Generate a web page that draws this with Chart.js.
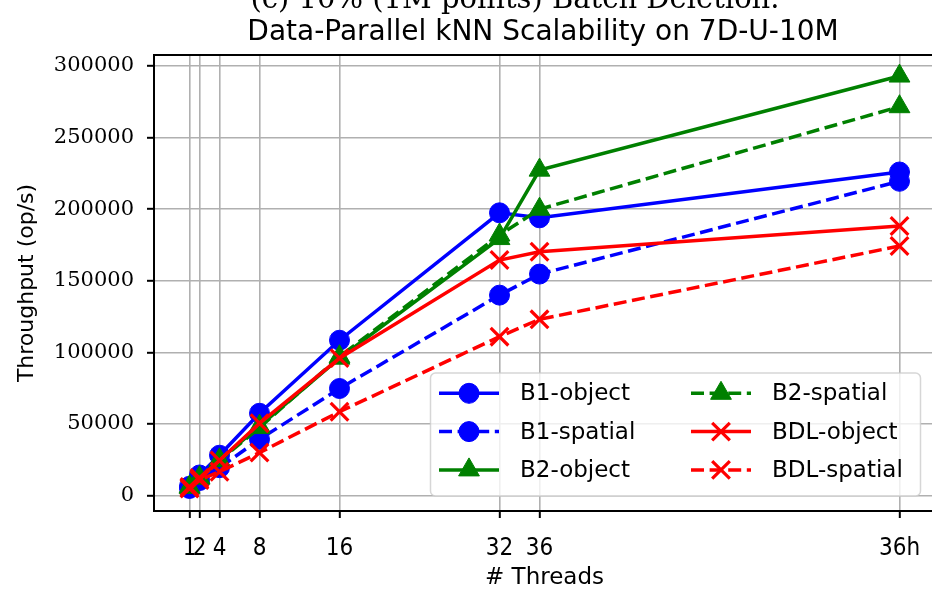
<!DOCTYPE html>
<html>
<head>
<meta charset="utf-8">
<title>Data-Parallel kNN Scalability</title>
<script src="https://cdn.jsdelivr.net/npm/chart.js@4.4.1/dist/chart.umd.min.js"></script>
<style>
  html, body { margin: 0; padding: 0; background: #fff; overflow: hidden; }
  #wrap { width: 932px; height: 590px; overflow: hidden; }
  canvas { display: block; }
</style>
</head>
<body>
<div id="wrap"><canvas id="knnChart" width="936" height="590"></canvas></div>
<script>
// x positions of the thread counts; the hyperthreaded run "36h" sits at 72
const threadPos = [1, 2, 4, 8, 16, 32, 36, 72];
const threadLabels = ['1', '2', '4', '8', '16', '32', '36', '36h'];
const yTicks = [0, 50000, 100000, 150000, 200000, 250000, 300000];

// throughput in op/s, one value per thread count
const b1Object   = [6500, 14400, 28200, 57500, 108500, 197500, 194000, 226000];
const b1Spatial  = [5000, 10500, 19500, 39300, 74800, 140000, 154700, 219500];
const b2Object   = [6000, 12500, 25000, 48500, 96000, 179500, 227300, 293000];
const b2Spatial  = [5800, 12200, 24500, 47500, 97000, 182000, 200000, 271600];
const bdlObject  = [6000, 12300, 24500, 50500, 96000, 164500, 170300, 188300];
const bdlSpatial = [5000, 10900, 16700, 30000, 58600, 111000, 123100, 174300];

const titleTop = '(c) 10% (1M points) Batch Deletion.';
const titleMain = 'Data-Parallel kNN Scalability on 7D-U-10M';

const BLUE = '#0000ff', GREEN = '#008000', RED = '#ff0000';

function series(label, values, color, dashed, marker) {
  const sizes = { circle: 10, triangle: 12, crossRot: 12.5 };
  return {
    label: label,
    data: values.map((v, i) => ({ x: threadPos[i], y: v })),
    borderColor: color,
    backgroundColor: color,
    borderWidth: 3.5,
    borderDash: dashed ? [13, 5.6] : [],
    pointStyle: marker,
    pointRadius: sizes[marker],
    pointBackgroundColor: color,
    pointBorderColor: color,
    pointBorderWidth: marker === 'crossRot' ? 3.2 : 1,
    tension: 0,
    fill: false
  };
}

const datasets = [
  series('B1-object', b1Object, BLUE, false, 'circle'),
  series('B1-spatial', b1Spatial, BLUE, true, 'circle'),
  series('B2-object', b2Object, GREEN, false, 'triangle'),
  series('B2-spatial', b2Spatial, GREEN, true, 'triangle'),
  series('BDL-object', bdlObject, RED, false, 'crossRot'),
  series('BDL-spatial', bdlSpatial, RED, true, 'crossRot')
];
// later series are painted on top
datasets.forEach((d, i) => { d.order = datasets.length - i; });

function drawMarker(ctx, style, x, y, r, color, bw) {
  ctx.save();
  ctx.setLineDash([]);
  ctx.fillStyle = color;
  ctx.strokeStyle = color;
  ctx.lineWidth = bw;
  ctx.beginPath();
  if (style === 'circle') {
    ctx.arc(x, y, r, 0, Math.PI * 2);
    ctx.fill();
    ctx.stroke();
  } else if (style === 'triangle') {
    for (let k = 0; k < 3; k++) {
      const a = k * 2 * Math.PI / 3;
      const px = x + Math.sin(a) * r, py = y - Math.cos(a) * r;
      if (k === 0) ctx.moveTo(px, py); else ctx.lineTo(px, py);
    }
    ctx.closePath();
    ctx.fill();
    ctx.stroke();
  } else {
    const o = r * Math.SQRT1_2;
    ctx.moveTo(x - o, y - o); ctx.lineTo(x + o, y + o);
    ctx.moveTo(x + o, y - o); ctx.lineTo(x - o, y + o);
    ctx.stroke();
  }
  ctx.restore();
}

// spines, two-line title and a column-major legend
const framePlugin = {
  id: 'framePlugin',
  afterDraw(chart) {
    const ctx = chart.ctx;
    const a = chart.chartArea;
    ctx.save();
    ctx.strokeStyle = '#000';
    ctx.lineWidth = 2;
    ctx.strokeRect(a.left, a.top, a.right - a.left, a.bottom - a.top);

    ctx.fillStyle = '#000';
    ctx.textAlign = 'center';
    ctx.textBaseline = 'alphabetic';
    ctx.font = '29px "DejaVu Serif"';
    ctx.fillText(titleTop, 515, 8);
    ctx.font = '28px "DejaVu Sans"';
    ctx.fillText(titleMain, 543, 40);

    // legend frame
    ctx.beginPath();
    ctx.roundRect(430.5, 373, 490, 123, 5);
    ctx.fillStyle = 'rgba(255,255,255,0.8)';
    ctx.fill();
    ctx.strokeStyle = 'rgba(204,204,204,0.8)';
    ctx.lineWidth = 1.5;
    ctx.stroke();

    ctx.font = '23px "DejaVu Sans"';
    ctx.textAlign = 'left';
    ctx.textBaseline = 'middle';
    chart.data.datasets.forEach((ds, i) => {
      const col = Math.floor(i / 3), row = i % 3;
      const x0 = col === 0 ? 439 : 691;
      const y = 393.3 + row * 38.3;
      ctx.save();
      ctx.strokeStyle = ds.borderColor;
      ctx.lineWidth = ds.borderWidth;
      ctx.setLineDash(ds.borderDash);
      ctx.beginPath();
      ctx.moveTo(x0, y);
      ctx.lineTo(x0 + 60, y);
      ctx.stroke();
      ctx.restore();
      drawMarker(ctx, ds.pointStyle, x0 + 30, y, ds.pointRadius, ds.borderColor, ds.pointBorderWidth);
      ctx.fillStyle = '#000';
      ctx.fillText(ds.label, x0 + 81, y + 1);
    });
    ctx.restore();
  }
};

const gridStyle = {
  color: '#b0b0b0',
  lineWidth: 1.6,
  drawTicks: true,
  tickLength: 7,
  tickColor: '#000',
  tickWidth: 2
};

new Chart(document.getElementById('knnChart').getContext('2d'), {
  type: 'line',
  data: { datasets: datasets },
  plugins: [framePlugin],
  options: {
    responsive: false,
    animation: false,
    devicePixelRatio: 1,
    layout: { autoPadding: false, padding: { top: 55, right: 1, left: 0, bottom: 0 } },
    plugins: {
      legend: { display: false },
      tooltip: { enabled: false },
      title: { display: false }
    },
    scales: {
      x: {
        type: 'linear',
        min: -2.55,
        max: 75.55,
        afterBuildTicks: (axis) => { axis.ticks = threadPos.map(v => ({ value: v })); },
        afterFit: (axis) => {
          axis.height = 79;
          axis.paddingLeft = 0;
          axis.paddingRight = 0;
        },
        ticks: {
          autoSkip: false,
          maxRotation: 0,
          padding: 16,
          color: '#000',
          font: { family: '"DejaVu Sans Condensed", "DejaVu Sans"', size: 24, lineHeight: 1.2 },
          callback: (value) => threadLabels[threadPos.indexOf(value)]
        },
        grid: gridStyle,
        border: { display: false },
        title: {
          display: true,
          text: '# Threads',
          color: '#000',
          font: { family: '"DejaVu Sans"', size: 23, lineHeight: 1.0 },
          padding: { top: 0, bottom: 0 }
        }
      },
      y: {
        type: 'linear',
        min: -10750,
        max: 307700,
        afterBuildTicks: (axis) => { axis.ticks = yTicks.map(v => ({ value: v })); },
        afterFit: (axis) => {
          axis.width = 154;
          axis.paddingTop = 0;
          axis.paddingBottom = 0;
        },
        ticks: {
          padding: 13,
          color: '#000',
          font: { family: '"DejaVu Serif"', size: 21 },
          callback: (value) => String(value)
        },
        grid: gridStyle,
        border: { display: false },
        title: {
          display: true,
          text: 'Throughput (op/s)',
          color: '#000',
          font: { family: '"DejaVu Sans"', size: 22, lineHeight: 1.2 },
          padding: { top: 14, bottom: 0 }
        }
      }
    }
  }
});
</script>
</body>
</html>
